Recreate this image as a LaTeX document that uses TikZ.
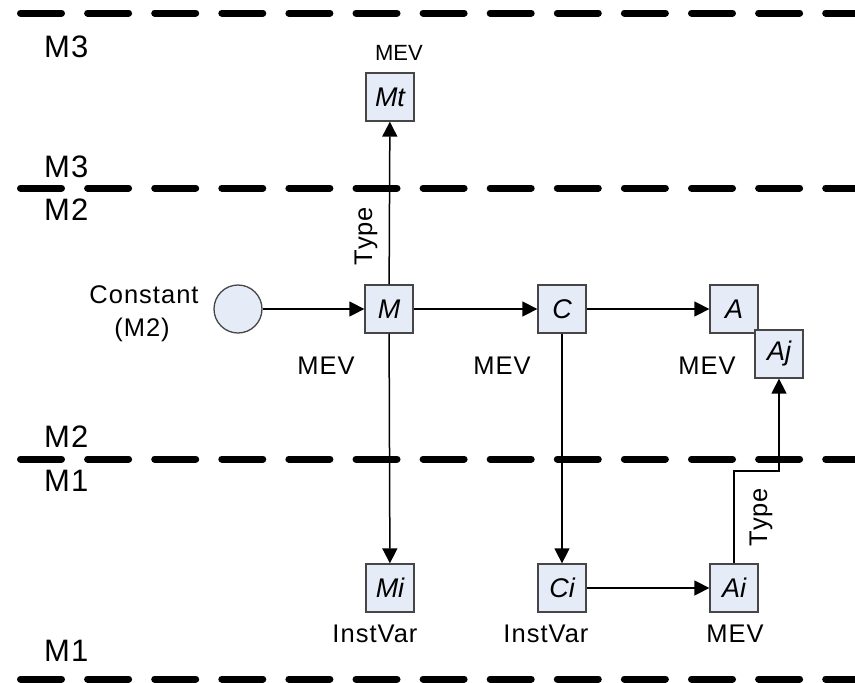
\documentclass[tikz,border=0pt]{standalone}
\usepackage{fontspec}
\setmainfont{Liberation Sans}
\newfontfamily\widefont[LetterSpace=4]{Liberation Sans}
\usetikzlibrary{arrows.meta}
\definecolor{boxfill}{RGB}{230,236,247}
\definecolor{boxline}{RGB}{70,70,70}
\begin{document}
\begin{tikzpicture}[x=1pt,y=-1pt,
  sep/.style={line width=7pt, line cap=round, dash pattern=on 41pt off 26.1pt},
  lvl/.style={font=\widefont\fontsize{31}{34}\selectfont, anchor=west, inner sep=0pt},
  box/.style={draw=boxline, line width=1.3pt, fill=boxfill, minimum size=48pt, inner sep=0pt, font=\fontsize{27}{30}\selectfont\itshape},
  lbl/.style={font=\widefont\fontsize{25.5}{28}\selectfont, inner sep=0pt},
  conn/.style={line width=1.5pt, -{Triangle[length=15pt,width=15pt]}}
  ]
\useasboundingbox (0,0) rectangle (855,683);
\clip (0,0) rectangle (855,683);
% level separators
\draw[sep] (20.5,13) -- (900,13);
\draw[sep] (20.5,188) -- (900,188);
\draw[sep] (20.5,459) -- (900,459);
\draw[sep] (20.5,679) -- (900,679);
% level labels
\node[lvl] (l1) at (44,47) {M3};
\node[lvl] (l2) at (44,167) {M3};
\node[lvl] (l3) at (44,210) {M2};
\node[lvl] (l4) at (44,437) {M2};
\node[lvl] (l5) at (44,481) {M1};
\node[lvl] (l6) at (44,651) {M1};
% nodes
\node[box] (Mt) at (390,97) {Mt};
\node[box] (M) at (389,309) {M};
\node[box] (C) at (562,309) {C};
\node[box] (A) at (734,309) {A};
\node[box] (Aj) at (779,354) {Aj};
\node[box] (Mi) at (390,588) {Mi};
\node[box] (Ci) at (562,588) {Ci};
\node[box] (Ai) at (734,588) {Ai};
\node[circle, draw=boxline, line width=1.3pt, fill=boxfill, minimum size=48pt, inner sep=0pt] (K) at (238,309) {};
% text labels
\node[lbl, font=\fontsize{22}{25}\selectfont] (t1) at (399,53) {MEV};
\node[lbl] (t2) at (144,295) {Constant};
\node[lbl] (t3) at (142,330) {(M2)};
\node[lbl] (t4) at (326,366) {MEV};
\node[lbl] (t5) at (502,366) {MEV};
\node[lbl] (t6) at (707,366) {MEV};
\node[lbl] (t7) at (375,634) {InstVar};
\node[lbl] (t8) at (546,634) {InstVar};
\node[lbl] (t9) at (735,634) {MEV};
\node[lbl, rotate=90] (ty1) at (366,236) {Type};
\node[lbl, rotate=90] (ty2) at (761,517) {Type};
% connectors
\coordinate (bend) at (734,471);
\draw[conn] (K) -- (M);
\draw[conn] (M) -- (Mt);
\draw[conn] (M) -- (C);
\draw[conn] (C) -- (A);
\draw[conn] (M) -- (Mi);
\draw[conn] (C) -- (Ci);
\draw[conn] (Ci) -- (Ai);
\draw[conn] (Ai.north) -- (bend) -| (Aj.south);
\end{tikzpicture}
\end{document}
